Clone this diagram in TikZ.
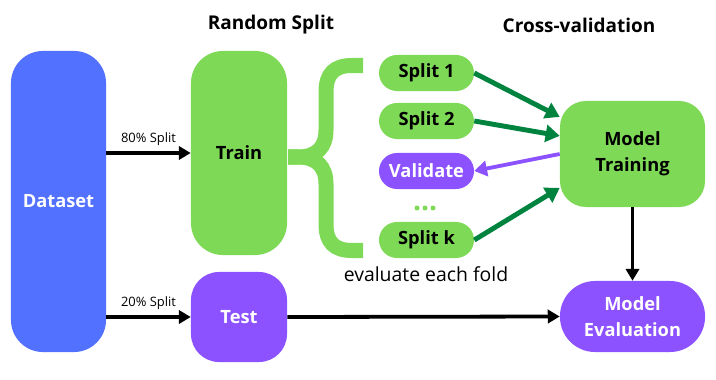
\documentclass[tikz,border=0pt]{standalone}
\usepackage{fontspec}
\setmainfont{Open Sans}
\usetikzlibrary{arrows.meta}

\definecolor{dsblue}{HTML}{5271FF}
\definecolor{trgreen}{HTML}{7ED957}
\definecolor{tspurple}{HTML}{8C52FF}
\definecolor{arrgreen}{HTML}{00833E}

\tikzset{
    block/.style={rounded corners=#1, inner sep=0pt, align=center,
        font=\bfseries\fontsize{13}{18.3}\selectfont},
    splitbox/.style={block=0.45cm, fill=trgreen, minimum width=2.375cm, minimum height=0.9cm},
    flow/.style={line width=2.7pt, -{Triangle[length=8.5pt, width=9.5pt]}},
    foldarrow/.style={arrgreen, line width=3.5pt, -{Triangle[length=10pt, width=12pt]}},
    pct/.style={above=0.5pt, font=\fontsize{9.2}{10}\selectfont},
}

\begin{document}
\begin{tikzpicture}[x=0.025cm, y=-0.025cm]
    \useasboundingbox (0,0) rectangle (716,380);

    % column headers
    \node[font=\bfseries\fontsize{13.5}{16}\selectfont] (hsplit) at (271,25) {Random Split};
    \node[font=\bfseries\fontsize{13.5}{16}\selectfont] (hcv) at (579,25) {Cross-validation};

    % data and the two parts
    \node[block=0.8cm, fill=dsblue, text=white, minimum width=2.375cm, minimum height=7.525cm] (dataset) at (58.5,201.5) {Dataset};
    \node[block=0.8cm, fill=trgreen, minimum width=2.4cm, minimum height=5.1cm] (train) at (239,153) {Train};
    \node[block=0.7cm, fill=tspurple, text=white, minimum width=2.4cm, minimum height=2.25cm] (test) at (239,317) {Test};

    % brace over the folds
    \draw[trgreen, line width=0.375cm]
        (363,65.5) -- (352,65.5) .. controls (334,65.5) and (326,74) .. (326,92)
        -- (326,130) .. controls (326,148) and (316,157) .. (298,157) -- (288,157);
    \draw[trgreen, line width=0.375cm]
        (363,250.5) -- (352,250.5) .. controls (334,250.5) and (326,242) .. (326,224)
        -- (326,184) .. controls (326,166) and (316,157) .. (298,157) -- (288,157);

    % folds
    \node[splitbox] (split1) at (426.5,73) {Split 1};
    \node[splitbox] (split2) at (426.5,121) {Split 2};
    \node[splitbox, fill=tspurple, text=white] (validate) at (426.5,171) {Validate};
    \foreach \x in {417,425,433}
        \fill[trgreen] (\x,208) circle (2.5);
    \node[splitbox] (splitk) at (426.5,240) {Split k};
    \node[font=\fontsize{13.8}{15}\selectfont] (eachfold) at (426,274) {evaluate each fold};

    % model
    \node[block=0.65cm, fill=trgreen, minimum width=3.625cm, minimum height=2.65cm] (training) at (632.5,154) {Model\\Training};
    \node[block=0.875cm, fill=tspurple, text=white, minimum width=3.625cm, minimum height=1.775cm] (evaluation) at (632.5,316.5) {Model\\Evaluation};

    % connectors
    \draw[flow] (dataset.east |- train.west) -- node[pct] {80\% Split} (train.west);
    \draw[flow] (dataset.east |- test.west) -- node[pct] {20\% Split} (test.west);
    \draw[flow] (test.east) -- (evaluation.west);
    \draw[flow] (training.south) -- (evaluation.north);

    \draw[foldarrow] (split1.east) -- (training.153);
    \draw[foldarrow] (split2.east) -- (training.166);
    \draw[foldarrow] (splitk.east) -- (training.205);
    \draw[tspurple, line width=2.7pt, -{Triangle[length=9pt, width=11pt]}] (training.west) -- (validate.east);
\end{tikzpicture}
\end{document}
